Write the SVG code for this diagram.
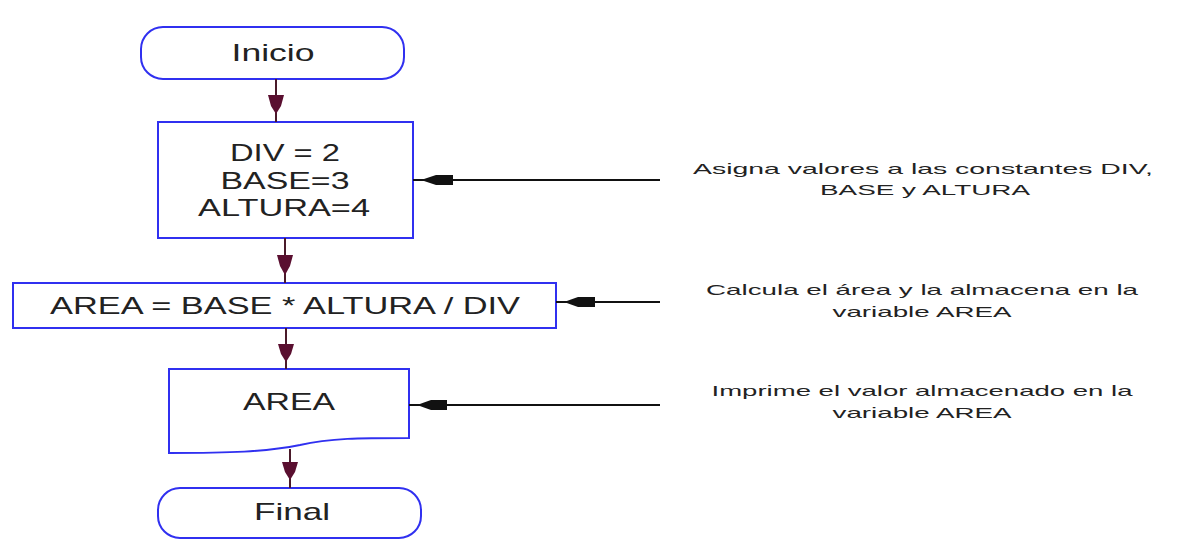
<svg xmlns="http://www.w3.org/2000/svg" width="1182" height="540" viewBox="0 0 1182 540">
<style>
.node{fill:#fff;stroke:#3030f0;stroke-width:2}
.t{font-family:"Liberation Sans",Arial,sans-serif;font-size:24px;fill:#222;text-anchor:middle}
.c{font-family:"Liberation Sans",Arial,sans-serif;font-size:15px;fill:#222;text-anchor:middle}
.flow{stroke:#4a1a2a;stroke-width:2;fill:none}
.fh{fill:#5a0f30}
.cl{stroke:#111;stroke-width:2;fill:none}
.ch{fill:#111}
</style>
<rect width="1182" height="540" fill="#fff"/>
<g id="inicio"><rect class="node" x="141" y="27" width="263" height="52" rx="22"/><text class="t" x="273" y="61" textLength="83" lengthAdjust="spacingAndGlyphs">Inicio</text></g>
<g id="asigna"><rect class="node" x="158" y="122" width="255" height="116"/><text class="t" x="285" y="161" textLength="110" lengthAdjust="spacingAndGlyphs">DIV = 2</text><text class="t" x="285" y="189" textLength="129" lengthAdjust="spacingAndGlyphs">BASE=3</text><text class="t" x="284" y="216" textLength="172" lengthAdjust="spacingAndGlyphs">ALTURA=4</text></g>
<g id="calcula"><rect class="node" x="13" y="283" width="543" height="45"/><text class="t" x="285" y="314" textLength="470" lengthAdjust="spacingAndGlyphs">AREA = BASE * ALTURA / DIV</text></g>
<g id="imprime"><path class="node" d="M169,369 H409 V438 C360,438 330,438 300,445 C265,452 230,453 169,453 Z"/><text class="t" x="289" y="410" textLength="92" lengthAdjust="spacingAndGlyphs">AREA</text></g>
<g id="final"><rect class="node" x="158" y="488" width="263" height="50" rx="22"/><text class="t" x="292" y="520" textLength="76" lengthAdjust="spacingAndGlyphs">Final</text></g>
<g id="notes">
<text class="c" x="923" y="174" textLength="460" lengthAdjust="spacingAndGlyphs">Asigna valores a las constantes DIV,</text>
<text class="c" x="925" y="195" textLength="210" lengthAdjust="spacingAndGlyphs">BASE y ALTURA</text>
<text class="c" x="922" y="295" textLength="432" lengthAdjust="spacingAndGlyphs">Calcula el área y la almacena en la</text>
<text class="c" x="922" y="317" textLength="179" lengthAdjust="spacingAndGlyphs">variable AREA</text>
<text class="c" x="922" y="396" textLength="421" lengthAdjust="spacingAndGlyphs">Imprime el valor almacenado en la</text>
<text class="c" x="922" y="418" textLength="179" lengthAdjust="spacingAndGlyphs">variable AREA</text>
</g>
<g id="connectors">
<line class="flow" x1="276" y1="79" x2="276" y2="122"/><path class="fh" d="M268,95 H284 L281,106 L276,114 L271,106 Z"/>
<line class="flow" x1="285" y1="238" x2="285" y2="283"/><path class="fh" d="M277,255 H293 L290,266 L285,275 L280,266 Z"/>
<line class="flow" x1="286" y1="328" x2="286" y2="369"/><path class="fh" d="M278,344 H294 L291,354 L286,362 L281,354 Z"/>
<line class="flow" x1="290" y1="449" x2="290" y2="488"/><path class="fh" d="M282,462 H298 L295,472 L290,480 L285,472 Z"/>
<line class="cl" x1="413" y1="180" x2="660" y2="180"/><path class="ch" d="M421,180 L436,175 H453 V185 H436 Z"/>
<line class="cl" x1="556" y1="302" x2="660" y2="302"/><path class="ch" d="M564,302 L578,297 H595 V307 H578 Z"/>
<line class="cl" x1="409" y1="405" x2="660" y2="405"/><path class="ch" d="M417,405 L431,400 H447 V410 H431 Z"/>
</g>
</svg>
